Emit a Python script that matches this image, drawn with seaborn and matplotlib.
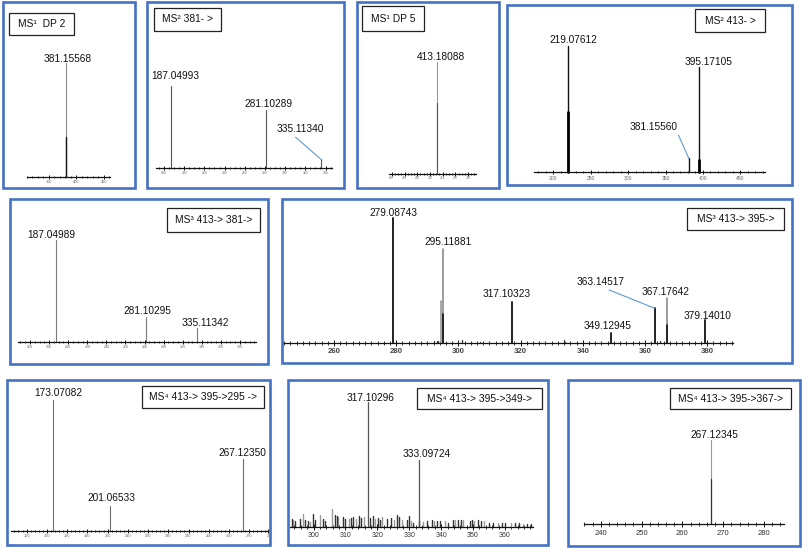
import numpy as np
import pandas as pd
import matplotlib
matplotlib.use("Agg")
import matplotlib.pyplot as plt
import seaborn as sns
from matplotlib.patches import Rectangle
from matplotlib.ticker import MultipleLocator

sns.set_theme(style="white")
plt.rcParams['font.family'] = ['Liberation Sans', 'DejaVu Sans']

# ---------------- data ----------------
p1_mz = [381.15568]
p1_int = [100]
p1_core = [35]
p1_labels = ["381.15568"]
p1_ticks = [350, 400, 450]
p1_title = "MS¹  DP 2"

p2_mz = [187.04993, 281.10289, 335.11340]
p2_int = [100, 70.5, 11]
p2_labels = ["187.04993", "281.10289", "335.11340"]
p2_ticks = [180, 200, 220, 240, 260, 280, 300, 320, 340]
p2_title = "MS² 381- >"

p3_mz = [413.18088]
p3_int = [100]
p3_core = [63]
p3_labels = ["413.18088"]
p3_ticks = [406, 408, 410, 412, 414, 416, 418]
p3_title = "MS¹ DP 5"

p4_mz = [219.07612, 381.15560, 395.17105]
p4_int = [100, 11, 83]
p4_core = [48, 0, 9.7]
p4_labels = ["219.07612", "381.15560", "395.17105"]
p4_ticks = [200, 250, 300, 350, 400, 450]
p4_title = "MS² 413- >"

p5_mz = [187.04989, 281.10295, 335.11342]
p5_int = [100, 24, 13.8]
p5_labels = ["187.04989", "281.10295", "335.11342"]
p5_ticks = [160, 180, 200, 220, 240, 260, 280, 300, 320, 340, 360, 380]
p5_title = "MS³ 413-> 381->"

p6_mz = [279.08743, 295.11881, 317.10323, 349.12945, 363.14517, 367.17642, 379.14010]
p6_int = [100, 75.4, 33.3, 8.5, 28, 36, 19]
p6_core = [100, 23.7, 33.3, 8.5, 28, 14.6, 19]
p6_labels = ["279.08743", "295.11881", "317.10323", "349.12945", "363.14517", "367.17642", "379.14010"]
p6_side_mz = [294.3]
p6_side_int = [33.8]
p6_minor_mz = [292.3, 293.0, 293.6, 301.2, 306.8, 334.0, 334.4, 364.9]
p6_minor_int = [1.5, 2.0, 1.5, 2.5, 1.0, 2.4, 1.2, 1.6]
p6_ticks = [260, 280, 300, 320, 340, 360, 380]
p6_title = "MS³ 413-> 395->"

p7_mz = [173.07082, 201.06533, 267.12350]
p7_int = [100, 19, 54.7]
p7_labels = ["173.07082", "201.06533", "267.12350"]
p7_ticks = [160, 170, 180, 190, 200, 210, 220, 230, 240, 250, 260, 270, 279.3]
p7_ticklabels = ["160", "170", "180", "190", "200", "210", "220", "230", "240", "250", "260", "270", "2"]
p7_title = "MS⁴ 413-> 395->295 ->"

p8_mz = [317.10296, 333.09724]
p8_int = [100, 54]
p8_labels = ["317.10296", "333.09724"]
p8_noise_mz = [293.2, 293.7, 294.2, 295.8, 296.6, 297.4, 298.1, 298.9, 299.8, 300.5,
               302.1, 302.9, 303.6, 305.9, 306.6, 307.3, 307.8, 309.2, 309.9, 311.0,
               311.7, 312.5, 313.3, 314.1, 314.8, 315.9, 317.8, 318.6, 319.3, 320.1,
               320.9, 321.6, 323.0, 324.2, 325.3, 326.1, 326.8, 327.7, 329.2, 330.0,
               330.5, 331.3, 332.9, 334.3, 335.5, 337.1, 337.8, 338.7, 339.5, 341.3,
               342.3, 343.7, 344.4, 345.4, 346.2, 347.0, 348.9, 349.6, 350.4, 351.7,
               352.4, 353.5, 354.9, 356.4, 357.7, 359.0, 360.1, 361.9, 363.2, 364.5,
               365.8, 366.9, 368.1]
p8_noise_int = [6.6, 5.3, 4.8, 6.6, 10.1, 5.3, 4.8, 4.0, 10.1, 5.3,
                9.3, 6.6, 4.8, 14.6, 9.3, 8.5, 8.0, 8.0, 6.6, 6.6,
                7.4, 8.0, 6.6, 8.5, 7.4, 8.0, 7.4, 8.5, 6.6, 7.4,
                5.8, 8.0, 6.6, 7.4, 5.8, 9.3, 8.0, 5.3, 5.8, 8.5,
                4.8, 3.2, 4.8, 4.0, 4.8, 5.3, 4.8, 4.8, 4.8, 4.8,
                3.2, 5.3, 5.3, 5.3, 5.8, 5.8, 4.8, 5.3, 4.8, 5.3,
                4.8, 4.8, 3.2, 3.2, 3.2, 3.2, 3.2, 3.2, 3.2, 3.2,
                2.7, 2.7, 2.7]
p8_ticks = [300, 310, 320, 330, 340, 350, 360]
p8_title = "MS⁴ 413-> 395->349->"

p9_mz = [267.12345]
p9_int = [100]
p9_core = [54]
p9_labels = ["267.12345"]
p9_ticks = [240, 250, 260, 270, 280]
p9_title = "MS⁴ 413-> 395->367->"

# ---------------- layout helpers ----------------
W, H = 803, 548
fig = plt.figure(figsize=(W / 100, H / 100), dpi=100)
fig.patch.set_facecolor("white")
BLUE = "#4472C4"
LEAD = "#5B9BD5"


def frame(x0, y0, x1, y1):
    fig.add_artist(Rectangle((x0 / W, 1 - y1 / H), (x1 - x0) / W, (y1 - y0) / H,
                             transform=fig.transFigure, fill=False, ec=BLUE, lw=1.9))


def titlebox(x0, y0, x1, y1, text, fs=7.4):
    fig.add_artist(Rectangle((x0 / W, 1 - y1 / H), (x1 - x0) / W, (y1 - y0) / H,
                             transform=fig.transFigure, fill=False, ec="#222222", lw=0.9))
    fig.text((x0 + x1) / 2 / W, 1 - (y0 + y1) / 2 / H, text, ha="center", va="center",
             fontsize=fs, color="#111111")


def make_ax(x0, x1, base, top, xlim, ticks, major_len, minor_step, labelsize,
            labelcolor="#666666", pad=1.0, bold=False, ticklabels=None):
    ax = fig.add_axes([x0 / W, 1 - base / H, (x1 - x0) / W, (base - top) / H])
    ax.set_xlim(*xlim)
    ax.set_ylim(0, 100)
    ax.patch.set_alpha(0)
    for s in ("top", "right", "left"):
        ax.spines[s].set_visible(False)
    ax.spines["bottom"].set_color("#111111")
    ax.spines["bottom"].set_linewidth(0.9)
    ax.set_yticks([])
    ax.set_xticks(ticks)
    if ticklabels is not None:
        ax.set_xticklabels(ticklabels)
    ax.xaxis.set_minor_locator(MultipleLocator(minor_step))
    ax.tick_params(axis="x", which="major", direction="inout", length=major_len, width=0.7,
                   color="#111111", labelsize=labelsize, labelcolor=labelcolor, pad=pad, bottom=True)
    ax.tick_params(axis="x", which="minor", direction="inout", length=major_len * 0.6,
                   width=0.6, color="#111111", bottom=True)
    if bold:
        for t in ax.get_xticklabels():
            t.set_fontweight("bold")
    ax.grid(False)
    return ax


def stems(ax, mz, inten, color, lw):
    mz = np.asarray(mz, dtype=float)
    inten = np.asarray(inten, dtype=float)
    df = pd.DataFrame({
        "mz": np.repeat(mz, 2),
        "y": np.column_stack([np.zeros(len(inten)), inten]).ravel(),
        "pk": np.repeat(np.arange(len(mz)), 2),
    })
    sns.lineplot(data=df, x="mz", y="y", units="pk", estimator=None, sort=False,
                 color=color, lw=lw, ax=ax, legend=False)
    for ln in ax.lines:
        ln.set_clip_on(False)
    ax.set_xlabel("")
    ax.set_ylabel("")


def labels(ax, mz, inten, texts, offsets, fs=7.3, leaders=None):
    leaders = leaders or {}
    for i, (m, v, t) in enumerate(zip(mz, inten, texts)):
        dx, dy = offsets[i]
        kw = {}
        if i in leaders:
            kw["arrowprops"] = dict(arrowstyle="-", color=LEAD, lw=0.8, shrinkA=0, shrinkB=0,
                                    relpos=leaders[i])
        ax.annotate(t, xy=(m, v), xytext=(dx, dy), textcoords="offset pixels",
                    ha="center", va="center", fontsize=fs, color="#111111",
                    annotation_clip=False, **kw)


# ---------------- panel frames ----------------
frame(3, 2, 135, 188)
frame(147, 1.5, 344, 188)
frame(357, 2, 499, 187.5)
frame(507, 5, 792, 184.5)
frame(10, 199, 268.5, 363.5)
frame(282, 199, 792, 362.5)
frame(7.5, 380, 270.5, 545)
frame(288, 380, 548, 545)
frame(567.5, 380, 800, 545.5)

# ---------------- panel 1 ----------------
ax = make_ax(27, 110, 177, 63, (310, 461), p1_ticks, 2.5, 10, 2.8, pad=0.8)
stems(ax, p1_mz, p1_int, "#8a8a8a", 0.8)
stems(ax, p1_mz, p1_core, "#111111", 1.0)
labels(ax, p1_mz, p1_int, p1_labels, [(2, 4)])
titlebox(9, 13, 74, 35, p1_title)

# ---------------- panel 2 ----------------
ax = make_ax(156, 332, 168, 85.7, (172.1, 346.4), p2_ticks, 2.5, 5, 2.4, pad=0.8)
stems(ax, p2_mz, p2_int, "#555555", 0.8)
labels(ax, p2_mz, p2_int, p2_labels, [(3.8, 9.7), (2.6, 6), (-20, 30)], leaders={2: (0.29, 0.1)})
titlebox(154, 8, 221, 31, p2_title)

# ---------------- panel 3 ----------------
ax = make_ax(389.3, 476.3, 173.5, 61.7, (405.6, 419.3), p3_ticks, 2.5, 0.5, 2.2, pad=0.8)
stems(ax, p3_mz, p3_int, "#9a9a9a", 0.8)
stems(ax, p3_mz, p3_core, "#555555", 0.8)
labels(ax, p3_mz, p3_int, p3_labels, [(3.4, 5)])
titlebox(362, 6, 424, 31, p3_title)

# ---------------- panel 4 ----------------
ax = make_ax(534, 765, 172.3, 46, (174.2, 483), p4_ticks, 3.0, 10, 3.6, pad=1.0)
stems(ax, p4_mz, p4_int, "#111111", 1.0)
stems(ax, p4_mz, p4_core, "#000000", 2.0)
labels(ax, p4_mz, p4_int, p4_labels, [(5.7, 6), (-34.8, 31.6), (9, 5)], leaders={1: (0.97, 0.1)})
titlebox(695, 9, 765, 32, p4_title)

# ---------------- panel 5 ----------------
ax = make_ax(18.3, 255.7, 341.7, 240, (147.7, 396.4), p5_ticks, 2.5, 5, 2.6, pad=1.0)
stems(ax, p5_mz, p5_int, "#7a7a7a", 0.8)
labels(ax, p5_mz, p5_int, p5_labels, [(-5, 5), (2, 6.3), (7.8, 5)])
titlebox(167.3, 208.3, 260, 231.7, p5_title)

# ---------------- panel 6 ----------------
ax = make_ax(283.3, 732.7, 343.3, 218.3, (243.7, 388.2), p6_ticks, 4.0, 2, 5.6,
             labelcolor="#444444", pad=1.2, bold=True)
stems(ax, p6_minor_mz, p6_minor_int, "#333333", 0.9)
stems(ax, p6_side_mz, p6_side_int, "#9a9a9a", 1.2)
stems(ax, p6_mz, p6_int, "#8c8c8c", 1.2)
stems(ax, p6_mz, p6_core, "#111111", 1.2)
labels(ax, p6_mz, p6_int, p6_labels,
       [(-0.3, 5), (4.5, 6.7), (-4.5, 7.7), (-3.8, 7), (-54.4, 26.6), (-2, 6), (3.2, 3.5)],
       leaders={4: (0.46, 0.1)})
titlebox(686.7, 207.7, 784, 230, p6_title)

# ---------------- panel 7 ----------------
ax = make_ax(11, 268.3, 531, 400, (152.3, 279.4), p7_ticks, 2.5, 2, 2.8, pad=1.0,
             ticklabels=p7_ticklabels)
stems(ax, p7_mz, p7_int, "#6f6f6f", 0.8)
labels(ax, p7_mz, p7_int, p7_labels, [(5.5, 6.7), (2, 7.7), (-1.5, 6)])
titlebox(141.7, 386, 264.3, 408.3, p7_title)

# ---------------- panel 8 ----------------
ax = make_ax(290.3, 533, 527, 402.3, (292.7, 368.8), p8_ticks, 4.0, 2, 5.0,
             labelcolor="#333333", pad=1.5)
noise_dark = [m for i, m in enumerate(p8_noise_mz) if i % 3 != 1]
noise_dark_i = [v for i, v in enumerate(p8_noise_int) if i % 3 != 1]
noise_light = [m for i, m in enumerate(p8_noise_mz) if i % 3 == 1]
noise_light_i = [v for i, v in enumerate(p8_noise_int) if i % 3 == 1]
stems(ax, noise_light, noise_light_i, "#9a9a9a", 1.0)
stems(ax, noise_dark, noise_dark_i, "#333333", 1.0)
stems(ax, p8_mz, p8_int, "#555555", 0.9)
labels(ax, p8_mz, p8_int, p8_labels, [(2.4, 4.6), (7.7, 5.7)])
titlebox(417.3, 388.3, 542.3, 409.3, p8_title)

# ---------------- panel 9 ----------------
ax = make_ax(584, 784, 524, 440, (235.9, 284.9), p9_ticks, 5.0, 2, 5.5,
             labelcolor="#333333", pad=2.0)
stems(ax, p9_mz, p9_int, "#9a9a9a", 0.8)
stems(ax, p9_mz, p9_core, "#333333", 0.9)
labels(ax, p9_mz, p9_int, p9_labels, [(2.6, 5)])
titlebox(670, 388.3, 790.7, 409.3, p9_title)

fig.savefig("out.png", dpi=100, facecolor="white")
